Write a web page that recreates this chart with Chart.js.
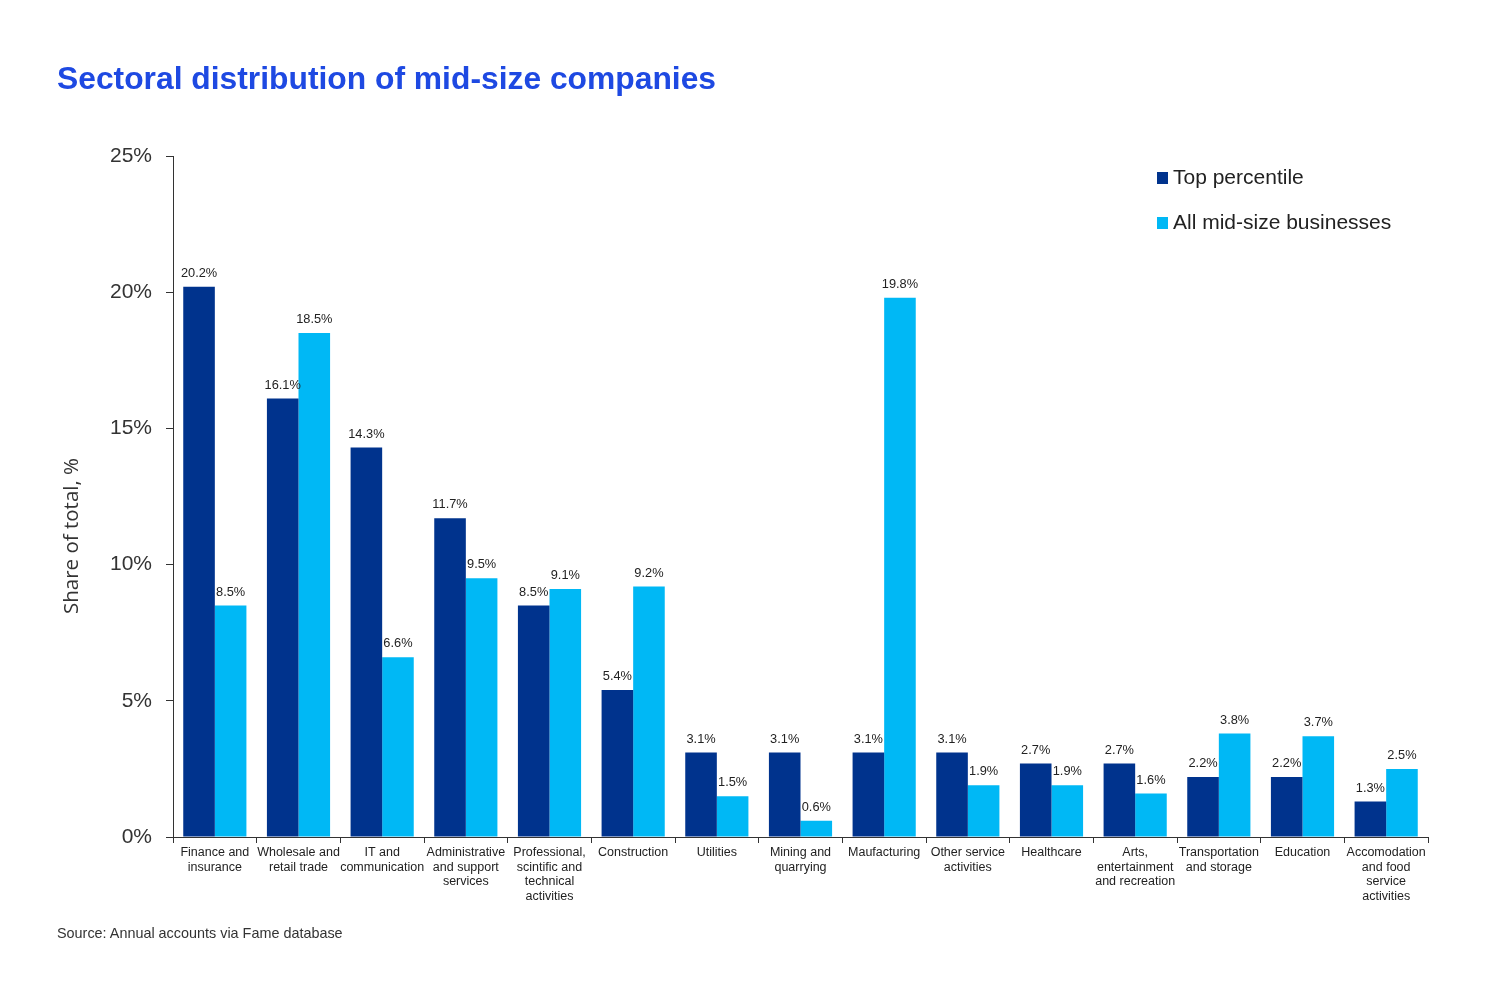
<!DOCTYPE html>
<html lang="en">
<head>
    <meta charset="UTF-8">
    <title>Sectoral distribution of mid-size companies</title>
    <script src="https://cdn.jsdelivr.net/npm/chart.js"></script>
    <style>
        body { margin: 0; background: #fff; }
        #wrap { position: relative; width: 1500px; height: 1000px; }
        canvas { position: absolute; left: 0; top: 0; }
        h1 {
            position: absolute; left: 57px; top: 60px; margin: 0;
            font-family: "Liberation Sans", Arial, sans-serif;
            font-weight: bold; font-size: 31.8px; color: #1E49E2;
        }
        .source {
            position: absolute; left: 57px; top: 925px;
            font-family: "Liberation Sans", Arial, sans-serif;
            font-size: 14.4px; color: #333;
        }
    </style>
</head>
<body>
<div id="wrap">
    <canvas id="sectorChart" width="1500" height="1000"></canvas>
    <h1>Sectoral distribution of mid-size companies</h1>
    <div class="source">Source: Annual accounts via Fame database</div>
</div>
<script>
    const sectors = [
        ['Finance and', 'insurance'],
        ['Wholesale and', 'retail trade'],
        ['IT and', 'communication'],
        ['Administrative', 'and support', 'services'],
        ['Professional,', 'scintific and', 'technical', 'activities'],
        'Construction',
        'Utilities',
        ['Mining and', 'quarrying'],
        'Maufacturing',
        ['Other service', 'activities'],
        'Healthcare',
        ['Arts,', 'entertainment', 'and recreation'],
        ['Transportation', 'and storage'],
        'Education',
        ['Accomodation', 'and food', 'service', 'activities']
    ];
    const topPercentile = [20.2, 16.1, 14.3, 11.7, 8.5, 5.4, 3.1, 3.1, 3.1, 3.1, 2.7, 2.7, 2.2, 2.2, 1.3];
    const allMidSize = [8.5, 18.5, 6.6, 9.5, 9.1, 9.2, 1.5, 0.6, 19.8, 1.9, 1.9, 1.6, 3.8, 3.7, 2.5];
    const yTitle = 'Share of total, %';

    const darkBlue = '#00338D';
    const lightBlue = '#00B8F5';
    const textFont = '"Liberation Sans", Arial, sans-serif';

    // value labels above each bar
    const barLabels = {
        id: 'barLabels',
        afterDatasetsDraw(chart) {
            const ctx = chart.ctx;
            ctx.save();
            ctx.font = '12.8px ' + textFont;
            ctx.fillStyle = '#222';
            ctx.textAlign = 'center';
            ctx.textBaseline = 'bottom';
            chart.data.datasets.forEach((ds, i) => {
                chart.getDatasetMeta(i).data.forEach((bar, j) => {
                    ctx.fillText(ds.data[j].toFixed(1) + '%', bar.x, bar.y - 7);
                });
            });
            ctx.restore();
        }
    };

    // legend at the top right and the y title, sitting a bit below the axis middle
    const extras = {
        id: 'extras',
        afterDraw(chart) {
            const ctx = chart.ctx;
            ctx.save();
            ctx.font = '21px ' + textFont;
            ctx.textBaseline = 'middle';
            chart.data.datasets.forEach((ds, i) => {
                const y = 178 + i * 45;
                ctx.fillStyle = ds.backgroundColor;
                ctx.fillRect(1157, y - 6, 11, 12);
                ctx.fillStyle = '#222';
                ctx.fillText(ds.label, 1173, y);
            });

            ctx.translate(72, 536);
            ctx.rotate(-Math.PI / 2);
            ctx.textAlign = 'center';
            ctx.fillStyle = '#333';
            ctx.font = '20.5px "Open Sans", sans-serif';
            ctx.fillText(yTitle, 0, 0);
            ctx.restore();
        }
    };

    new Chart(document.getElementById('sectorChart'), {
        type: 'bar',
        data: {
            labels: sectors,
            datasets: [
                {
                    label: 'Top percentile',
                    data: topPercentile,
                    backgroundColor: darkBlue,
                    categoryPercentage: 0.755,
                    barPercentage: 1.0
                },
                {
                    label: 'All mid-size businesses',
                    data: allMidSize,
                    backgroundColor: lightBlue,
                    categoryPercentage: 0.755,
                    barPercentage: 1.0
                }
            ]
        },
        options: {
            responsive: false,
            animation: false,
            layout: { padding: { top: 156, right: 72, left: 0, bottom: 0 } },
            plugins: {
                legend: { display: false },
                tooltip: { enabled: false }
            },
            scales: {
                x: {
                    afterFit(scale) { scale.height = 163; },
                    grid: {
                        offset: true,
                        drawOnChartArea: false,
                        drawTicks: true,
                        tickLength: 6,
                        color: '#333'
                    },
                    border: { display: true, color: '#333' },
                    ticks: {
                        autoSkip: false,
                        maxRotation: 0,
                        padding: 2,
                        color: '#222',
                        font: { family: textFont, size: 12.5, lineHeight: 1.18 }
                    }
                },
                y: {
                    min: 0,
                    max: 25,
                    afterFit(scale) { scale.width = 173; },
                    grid: {
                        drawOnChartArea: false,
                        drawTicks: true,
                        tickLength: 7,
                        color: '#333'
                    },
                    border: { display: true, color: '#333' },
                    ticks: {
                        stepSize: 5,
                        padding: 14,
                        color: '#333',
                        font: { family: textFont, size: 21 },
                        callback: v => v + '%'
                    }
                }
            }
        },
        plugins: [barLabels, extras]
    });
</script>
</body>
</html>
